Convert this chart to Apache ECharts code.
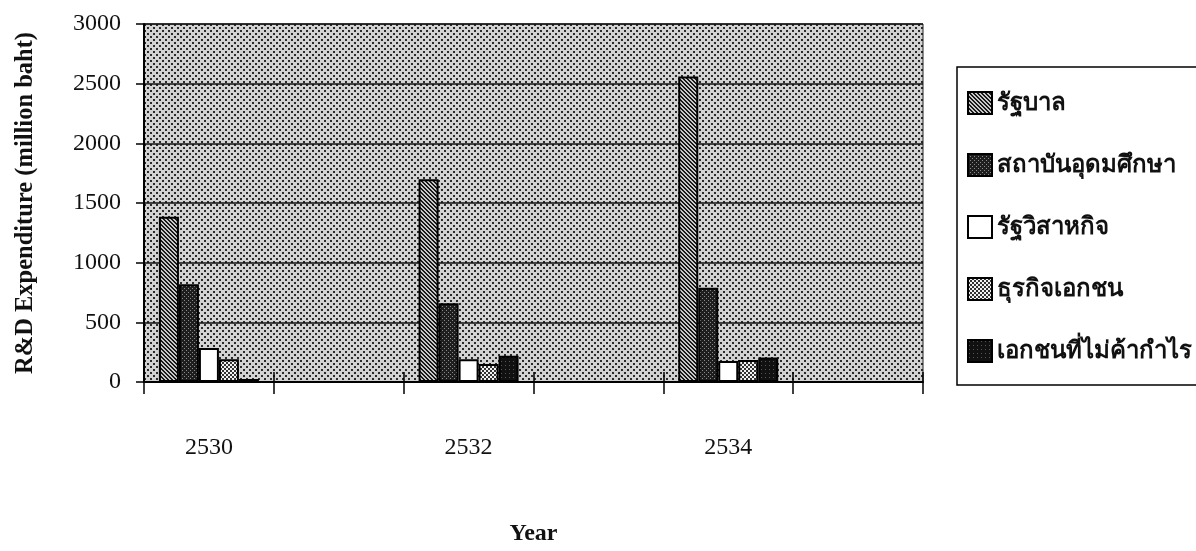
<!DOCTYPE html>
<html>
<head>
<meta charset="utf-8">
<script src="https://cdn.jsdelivr.net/npm/echarts@6/dist/echarts.min.js"></script>
<style>
  html, body { margin: 0; padding: 0; background: #fff; }
  #main { width: 1196px; height: 551px; }
</style>
</head>
<body>
<div id="main"></div>
<script>
// years on the axis, only every other one carries data
var years = ['2530', '2531', '2532', '2533', '2534', '2535'];
var seriesNames = ['รัฐบาล', 'สถาบันอุดมศึกษา', 'รัฐวิสาหกิจ', 'ธุรกิจเอกชน', 'เอกชนที่ไม่ค้ากำไร'];

var government = [1385, null, 1700, null, 2560, null];
var university = [820, null, 660, null, 790, null];
var stateEnterprise = [285, null, 190, null, 175, null];
var privateBusiness = [190, null, 150, null, 185, null];
var nonProfit = [25, null, 220, null, 205, null];

var yTicks = [0, 500, 1000, 1500, 2000, 2500, 3000];

// little canvas patterns to mimic the printed screen tones
function makePattern(size, bg, fg, dots) {
  var c = document.createElement('canvas');
  c.width = size;
  c.height = size;
  var ctx = c.getContext('2d');
  ctx.fillStyle = bg;
  ctx.fillRect(0, 0, size, size);
  ctx.fillStyle = fg;
  dots.forEach(function (d) {
    ctx.fillRect(d[0], d[1], d[2] || 1, d[3] || 1);
  });
  return { image: c, repeat: 'repeat' };
}

var bgPattern = makePattern(6, '#d2d2d2', '#2a2a2a', [[0, 0, 2, 2], [3, 3, 2, 2]]);
var hatch = makePattern(4, '#c8c8c8', '#1a1a1a', [[0, 0, 2, 1], [1, 1, 2, 1], [2, 2, 2, 1], [3, 3, 1, 1], [0, 3, 1, 1]]);
var darkDots = makePattern(4, '#1e1e1e', '#8a8a8a', [[0, 0], [2, 2]]);
var lightDots = makePattern(4, '#f2f2f2', '#333', [[0, 0, 2, 2], [2, 2, 2, 2]]);
var blackFill = makePattern(4, '#111', '#555', [[1, 1]]);

var fills = [hatch, darkDots, '#ffffff', lightDots, blackFill];
var values = [government, university, stateEnterprise, privateBusiness, nonProfit];

var chart = echarts.init(document.getElementById('main'));

var series = seriesNames.map(function (name, i) {
  return {
    name: name,
    type: 'bar',
    data: values[i],
    barWidth: 20,
    barGap: '0%',
    itemStyle: { color: fills[i], borderColor: '#000', borderWidth: 2 },
    emphasis: { disabled: true }
  };
});

var serif = 'Liberation Serif';

var option = {
  animation: false,
  backgroundColor: '#fff',
  grid: {
    left: 144, right: 273, top: 24, bottom: 163,
    show: true,
    backgroundColor: bgPattern,
    borderColor: '#222',
    borderWidth: 1
  },
  legend: {
    orient: 'vertical',
    left: 957,
    top: 67,
    padding: [24, 40, 22, 10],
    itemGap: 38,
    itemWidth: 24,
    itemHeight: 22,
    icon: 'rect',
    borderColor: '#000',
    borderWidth: 1.5,
    textStyle: { fontFamily: 'Noto Sans, DejaVu Sans, sans-serif', fontWeight: 'bold', fontSize: 24, lineHeight: 24, color: '#111' },
    data: seriesNames
  },
  xAxis: [{
    type: 'category',
    data: years,
    name: 'Year',
    nameLocation: 'middle',
    nameGap: 140,
    nameTextStyle: { fontFamily: serif, fontWeight: 'bold', fontSize: 24, color: '#111' },
    axisLine: { lineStyle: { color: '#000', width: 2 } },
    axisTick: { show: true, interval: 0, length: 12, lineStyle: { color: '#000', width: 1.5 } },
    axisLabel: { interval: 1, margin: 54, fontFamily: serif, fontSize: 24, color: '#111' }
  }, {
    // same axis again, only to draw the part of each tick that pokes up into the plot
    type: 'category',
    data: years,
    position: 'bottom',
    axisLine: { show: false },
    axisTick: { show: true, inside: true, interval: 0, length: 10, lineStyle: { color: '#000', width: 1.5 } },
    axisLabel: { show: false }
  }],
  yAxis: {
    type: 'value',
    min: yTicks[0],
    max: yTicks[yTicks.length - 1],
    interval: 500,
    name: 'R&D Expenditure (million baht)',
    nameLocation: 'middle',
    nameGap: 106,
    nameTextStyle: { fontFamily: serif, fontWeight: 'bold', fontSize: 24.5, color: '#111' },
    axisLine: { show: true, lineStyle: { color: '#000', width: 2 } },
    axisTick: { show: true, length: 8, lineStyle: { color: '#000', width: 1.5 } },
    axisLabel: {
      margin: 23, fontFamily: serif, fontSize: 24, color: '#111',
      formatter: function (v) { return String(v); }
    },
    splitLine: { lineStyle: { color: '#111', width: 1.5 } }
  },
  series: series
};

chart.setOption(option);
</script>
</body>
</html>
